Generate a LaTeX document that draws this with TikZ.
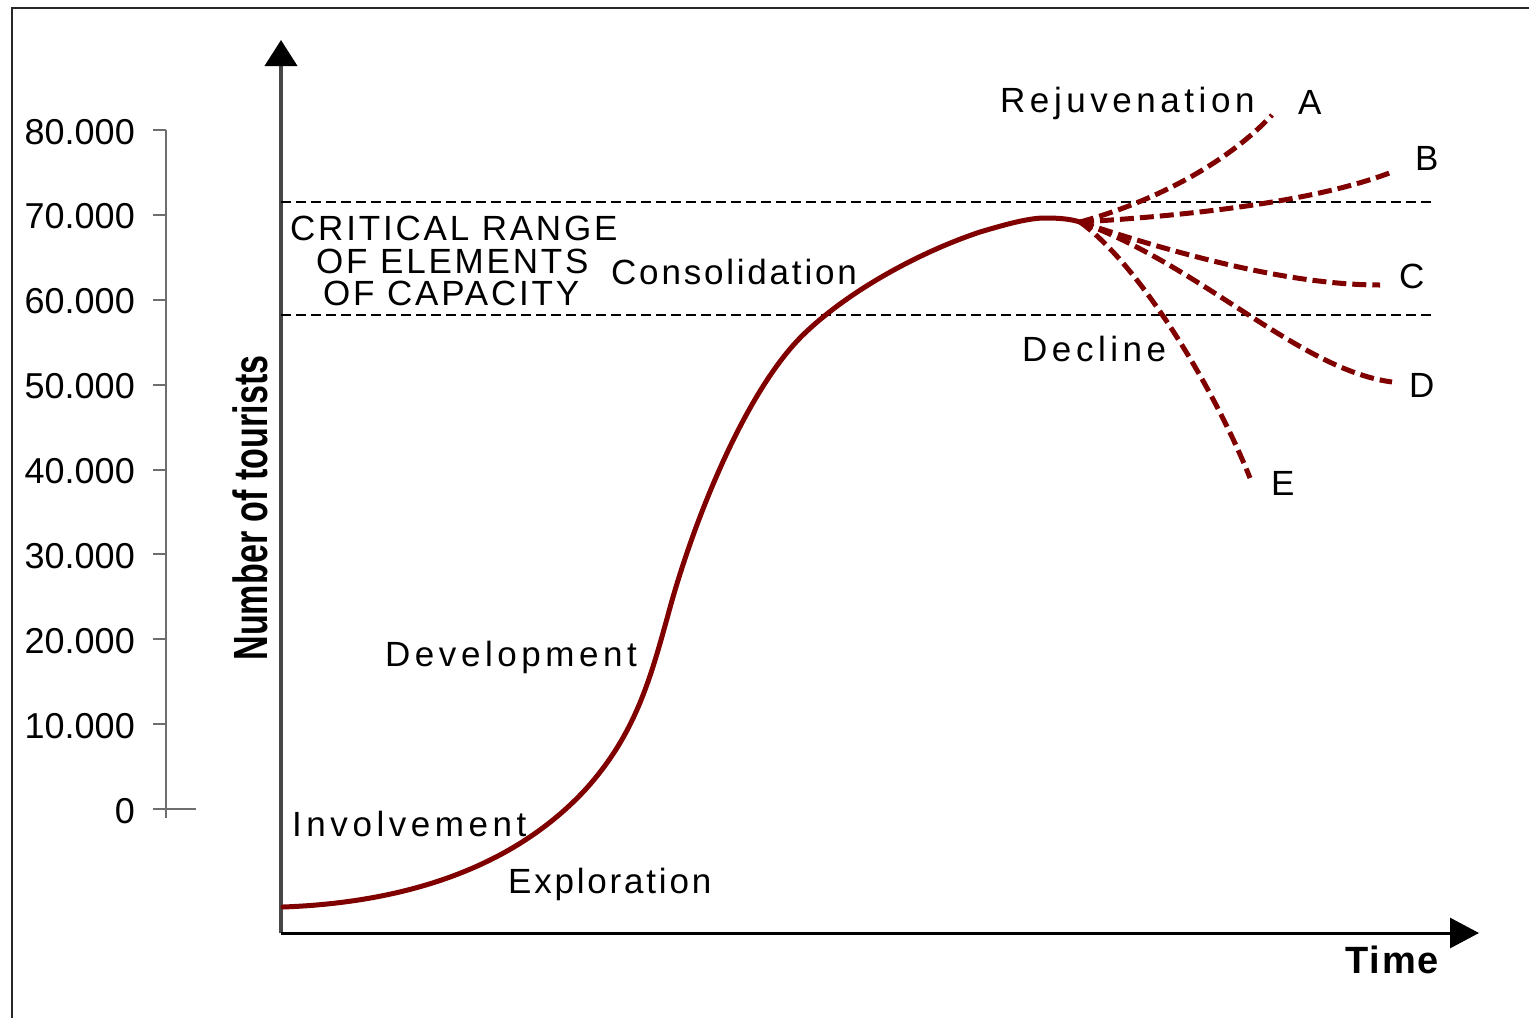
\documentclass[tikz,border=0pt]{standalone}
\usepackage{fontspec}
\usepackage{graphicx}
\setmainfont{Liberation Sans}
\newfontfamily\labfont[LetterSpace=8]{Liberation Sans}
\newfontfamily\widelabfont[LetterSpace=13]{Liberation Sans}
\usetikzlibrary{arrows.meta}
\definecolor{curvered}{RGB}{128,0,0}
\definecolor{framegray}{RGB}{40,40,40}
\definecolor{axisgray}{RGB}{70,70,70}
\definecolor{scalegray}{RGB}{110,110,110}
\begin{document}
\begin{tikzpicture}[x=1pt,y=-1pt,
  lab/.style={font=\labfont\fontsize{35}{40}\selectfont, inner sep=0pt, anchor=base west},
  widelab/.style={font=\widelabfont\fontsize{35}{40}\selectfont, inner sep=0pt, anchor=base west},
  ticklab/.style={font=\fontsize{36}{40}\selectfont, inner sep=0pt, anchor=base east},
  boldlab/.style={font=\bfseries\fontsize{38}{42}\selectfont, inner sep=0pt},
  mainaxis/.style={line width=3pt},
  critline/.style={draw=black, line width=2.4pt, dash pattern=on 10pt off 5pt},
  lifecurve/.style={draw=curvered, line width=5pt, line cap=round},
  branch/.style={draw=curvered, line width=5pt, dash pattern=on 14pt off 6pt},
  scaleline/.style={draw=scalegray, line width=2pt}]
\useasboundingbox (0,0) rectangle (1529,1018);
% frame
\draw[framegray, line width=2pt] (12,1018) -- (12,8) -- (1529,8);

% secondary scale
\coordinate (stop) at (166,130);
\coordinate (sbot) at (166,818);
\draw[scaleline] (stop) -- (sbot);
\foreach \k/\t in {0/0,1/10.000,2/20.000,3/30.000,4/40.000,5/50.000,6/60.000,7/70.000,8/80.000}{
  \coordinate (tk\k) at (166,{809-\k*84.875});
  \draw[scaleline] (tk\k) -- ++(-13,0);
  \node[ticklab] (tl\k) at (135,{823-\k*84.875}) {\t};
}
\draw[scaleline] (tk0) -- ++(30,0);

% main axes
\coordinate (O) at (281,933);
\coordinate (ytop) at (281,40);
\coordinate (xend) at (1479,933);
\draw[axisgray, line width=4pt, -{Triangle[length=26pt,width=32pt,color=black]}] (O) -- (ytop);
\draw[black, mainaxis, -{Triangle[length=29pt,width=30pt]}] (O) -- (xend);

% critical range lines
\coordinate (c1a) at (281,202);
\coordinate (c1b) at (1435,202);
\coordinate (c2a) at (281,315);
\coordinate (c2b) at (1435,315);
\draw[critline] (c1a) -- (c1b);
\draw[critline] (c2a) -- (c2b);

% life cycle curve
\coordinate (start) at (283,907);
\coordinate (p1) at (585,790);
\coordinate (p2) at (668,615);
\coordinate (p3) at (805,333);
\coordinate (p4) at (980,232);
\coordinate (peak) at (1045,218);
\coordinate (fan) at (1080,222);
\draw[lifecurve] (start) .. controls (420,902) and (520,860) .. (p1)
  .. controls (635,735) and (650,680) .. (p2)
  .. controls (692,525) and (745,390) .. (p3)
  .. controls (850,290) and (920,252) .. (p4)
  .. controls (1010,223) and (1030,218) .. (peak)
  .. controls (1060,218) and (1070,219) .. (fan);

% branches
\coordinate (eA) at (1272,115);
\coordinate (eB) at (1392,172);
\coordinate (eC) at (1380,285);
\coordinate (eD) at (1392,382);
\coordinate (eE) at (1250,478);
\draw[branch] (fan) .. controls (1160,200) and (1230,160) .. (eA);
\draw[branch] (fan) .. controls (1200,215) and (1320,200) .. (eB);
\draw[branch] (fan) .. controls (1180,255) and (1290,285) .. (eC);
\draw[branch] (fan) .. controls (1200,265) and (1300,370) .. (eD);
\draw[branch] (fan) .. controls (1140,265) and (1215,390) .. (eE);

% labels
\node[widelab] (rejuv) at (1000,112) {Rejuvenation};
\node[lab] (lA) at (1298,114) {A};
\node[lab] (lB) at (1415,170) {B};
\node[lab] (lC) at (1399,288) {C};
\node[lab] (lD) at (1409,397) {D};
\node[lab] (lE) at (1271,495) {E};
\node[widelab] (decline) at (1022,361) {Decline};
\node[lab] (crit1) at (290,240) {CRITICAL RANGE};
\node[lab] (crit2) at (316,273) {OF ELEMENTS};
\node[lab] (crit3) at (323,305) {OF CAPACITY};
\node[lab] (consol) at (611,284) {Consolidation};
\node[widelab] (devel) at (385,666) {Development};
\node[widelab] (involv) at (292,836) {Involvement};
\node[lab] (explor) at (508,893) {Exploration};
\node[boldlab, anchor=base west] (time) at (1345,973) {\addfontfeature{LetterSpace=5}Time};
\node[inner sep=0pt, rotate=90, font=\bfseries\fontsize{48}{50}\selectfont] (ylab) at (250,508) {\scalebox{0.71}[1]{Number of tourists}};
\end{tikzpicture}
\end{document}
